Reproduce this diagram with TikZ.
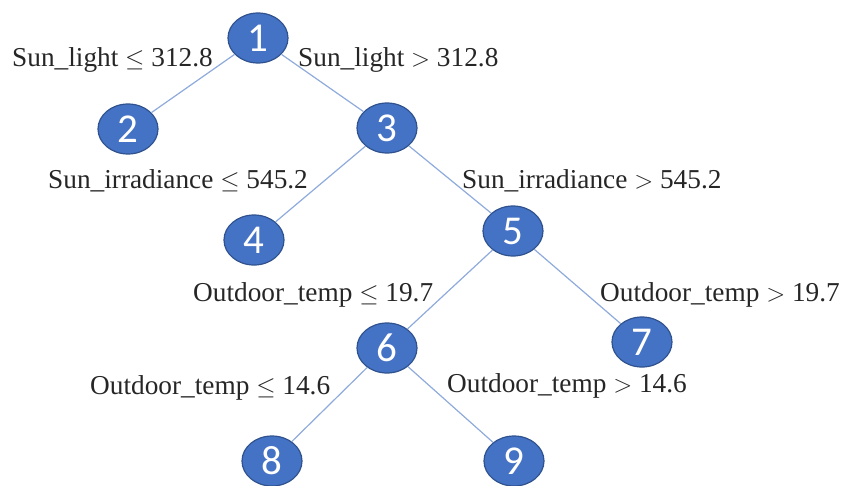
\documentclass[tikz,border=0pt]{standalone}
\usepackage{fontspec}
\usetikzlibrary{shapes.geometric}
\setmainfont{Liberation Serif}
\newfontfamily\numfont{Carlito}
\definecolor{nodefill}{HTML}{4472C4}
\definecolor{nodeline}{HTML}{2F528F}
\definecolor{edgecol}{HTML}{8FAADC}
\begin{document}
\begin{tikzpicture}[x=1pt,y=-1pt,
  tnode/.style={ellipse,draw=nodeline,line width=1.2pt,fill=nodefill,text=white,
    minimum width=60pt,minimum height=50pt,inner sep=0pt,font=\numfont\fontsize{41}{41}\selectfont},
  lbl/.style={inner sep=0pt,font=\fontsize{27.3}{30}\selectfont,text=black!85},
  conn/.style={draw=edgecol,line width=1.2pt}]
\useasboundingbox (0,0) rectangle (849,485);
\node[tnode] (n1) at (258,38) {1};
\node[tnode] (n2) at (128,129) {2};
\node[tnode] (n3) at (387,128) {3};
\node[tnode] (n4) at (254,240) {4};
\node[tnode] (n5) at (513,231) {5};
\node[tnode] (n6) at (387,348) {6};
\node[tnode] (n7) at (642,342) {7};
\node[tnode] (n8) at (272,461) {8};
\node[tnode] (n9) at (514,461) {9};
\path[conn] (n1) -- (n2);
\path[conn] (n1) -- (n3);
\path[conn] (n3) -- (n4);
\path[conn] (n3) -- (n5);
\path[conn] (n5) -- (n6);
\path[conn] (n5) -- (n7);
\path[conn] (n6) -- (n8);
\path[conn] (n6) -- (n9);
\node[lbl,anchor=west] (l12) at (12,60) {Sun\_light $\leq$ 312.8};
\node[lbl,anchor=west] (l13) at (298,60) {Sun\_light $>$ 312.8};
\node[lbl,anchor=west] (l34) at (48,181) {Sun\_irradiance $\leq$ 545.2};
\node[lbl,anchor=west] (l35) at (462,181) {Sun\_irradiance $>$ 545.2};
\node[lbl,anchor=west] (l56) at (193,295) {Outdoor\_temp $\leq$ 19.7};
\node[lbl,anchor=west] (l57) at (600,295) {Outdoor\_temp $>$ 19.7};
\node[lbl,anchor=west] (l68) at (90,388) {Outdoor\_temp $\leq$ 14.6};
\node[lbl,anchor=west] (l69) at (447,386) {Outdoor\_temp $>$ 14.6};
\end{tikzpicture}
\end{document}
